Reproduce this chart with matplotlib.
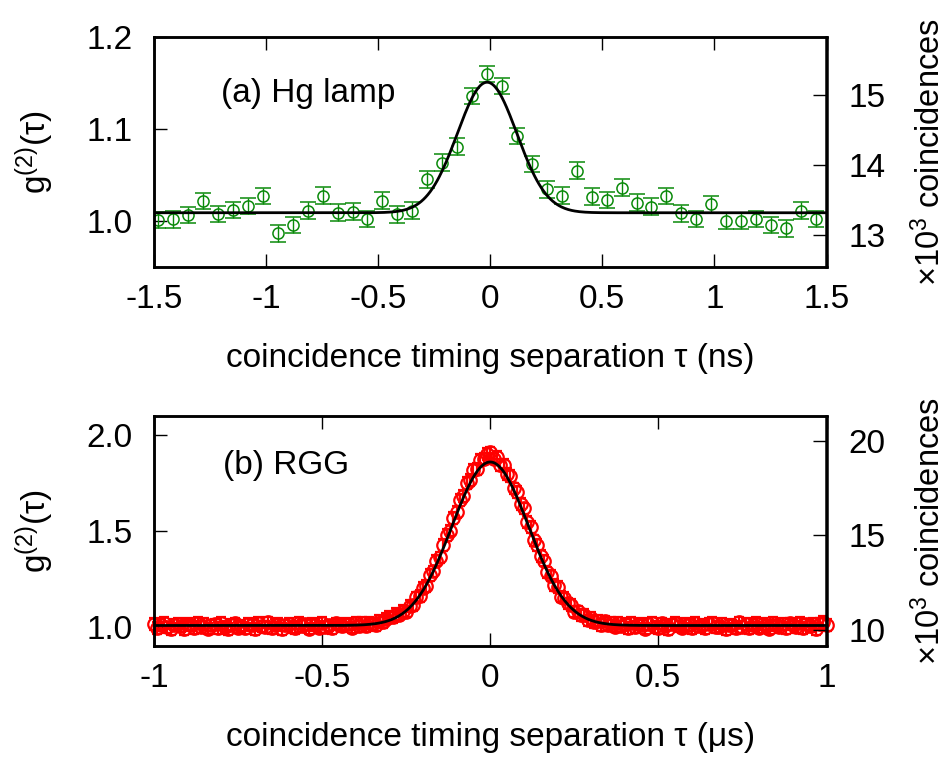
import numpy as np
import matplotlib
matplotlib.use("Agg")
import matplotlib.pyplot as plt
from matplotlib.ticker import FixedLocator, FixedFormatter

plt.rcParams['font.family'] = ['Liberation Sans', 'DejaVu Sans']
plt.rcParams['mathtext.fontset'] = 'custom'
plt.rcParams['mathtext.rm'] = 'Liberation Sans'
plt.rcParams['mathtext.it'] = 'Liberation Sans'

# ---------------- Panel (a): Hg lamp ----------------
tau_a = [-1.481, -1.414, -1.348, -1.281, -1.214, -1.148, -1.081, -1.014, -0.948, -0.881,
         -0.814, -0.748, -0.681, -0.614, -0.548, -0.481, -0.414, -0.348, -0.281, -0.214,
         -0.148, -0.081, -0.014, 0.053, 0.119, 0.186, 0.253, 0.319, 0.386, 0.453,
         0.519, 0.586, 0.653, 0.719, 0.786, 0.853, 0.919, 0.986, 1.053, 1.119,
         1.186, 1.253, 1.319, 1.386, 1.453]
g2_a = [1.0015, 1.0023, 1.0069, 1.0221, 1.0080, 1.0124, 1.0167, 1.0275, 0.9871, 0.9961,
        1.0116, 1.0278, 1.0094, 1.0105, 1.0026, 1.0224, 1.0077, 1.0116, 1.0456, 1.0636,
        1.0809, 1.1359, 1.1597, 1.1467, 1.0925, 1.0622, 1.0348, 1.0278, 1.0549, 1.0268,
        1.0232, 1.0365, 1.0203, 1.0159, 1.0275, 1.0088, 1.0026, 1.0185, 1.0004, 1.0004,
        1.0026, 0.9961, 0.9925, 1.0116, 1.0026]
err_a = [0.009] * len(g2_a)
fit_a = dict(base=1.0094, amp=0.1413, center=-0.014, sigma=0.133)

xticks_a = [-1.5, -1.0, -0.5, 0.0, 0.5, 1.0, 1.5]
xticklabels_a = ['-1.5', '-1', '-0.5', '0', '0.5', '1', '1.5']
yticks_a = [1.0, 1.1, 1.2]
yticklabels_a = ['1.0', '1.1', '1.2']
y2ticks_a = [13, 14, 15]
y2ticklabels_a = ['13', '14', '15']
norm_a = 13.19  # x10^3 coincidences at g2 = 1

# ---------------- Panel (b): RGG ----------------
tau_b = np.round(np.arange(-100, 101) * 0.01, 2)
g2_b = [
    1.015, 0.993, 1.009, 1.020, 0.997, 0.990, 1.011, 1.017, 1.002, 0.987,
    1.014, 1.007, 0.995, 1.022, 0.999, 1.016, 0.991, 1.008, 1.013, 0.994,
    1.021, 1.001, 0.988, 1.012, 1.018, 0.996, 1.006, 0.992, 1.015, 1.010,
    0.989, 1.019, 1.003, 0.998, 1.023, 0.993, 1.011, 1.014, 0.990, 1.008,
    1.017, 1.000, 0.995, 1.020, 1.004, 1.013, 0.991, 1.016, 1.009, 0.996,
    1.021, 0.999, 1.007, 0.993, 1.018, 1.012, 1.002, 1.015,
    1.013, 0.996, 1.019, 1.003, 1.022, 1.002, 1.021, 1.016, 1.009, 1.033,
    1.026, 1.043, 1.053, 1.050, 1.066, 1.064, 1.082, 1.080, 1.111, 1.112,
    1.154, 1.160, 1.203, 1.214, 1.271, 1.290, 1.345, 1.363, 1.427, 1.479,
    1.502, 1.569, 1.598, 1.663, 1.683, 1.750, 1.766, 1.817, 1.824, 1.873,
    1.878, 1.902,
    1.910,
    1.878, 1.888, 1.845, 1.844, 1.798, 1.786, 1.723, 1.703, 1.642, 1.618,
    1.548, 1.522, 1.451, 1.426, 1.370, 1.346, 1.284, 1.267, 1.218, 1.207,
    1.158, 1.152, 1.123, 1.113, 1.079, 1.081, 1.062, 1.061, 1.034, 1.045,
    1.024, 1.032, 1.010, 1.029, 1.008, 1.022, 1.001, 1.021, 1.002, 1.016,
    0.994, 1.020,
    0.998, 1.017, 1.008, 0.991, 1.014, 1.021, 1.000, 0.994, 1.018, 1.006,
    0.989, 1.013, 1.019, 1.002, 0.996, 1.016, 1.010, 0.992, 1.022, 1.003,
    1.011, 0.993, 1.015, 1.020, 0.997, 1.001, 1.017, 0.990, 1.012, 1.007,
    0.995, 1.023, 0.999, 1.014, 0.992, 1.009, 1.019, 0.996, 1.016, 1.004,
    0.991, 1.021, 1.008, 0.998, 1.015, 0.993, 1.018, 1.011, 1.000, 1.020,
    0.994, 1.013, 1.003, 1.017, 0.989, 1.014, 1.024, 1.010]
err_b = [0.03] * len(g2_b)
fit_b = dict(base=1.007, amp=0.853, center=0.0, sigma=0.114)

xticks_b = [-1.0, -0.5, 0.0, 0.5, 1.0]
xticklabels_b = ['-1', '-0.5', '0', '0.5', '1']
yticks_b = [1.0, 1.5, 2.0]
yticklabels_b = ['1.0', '1.5', '2.0']
y2ticks_b = [10, 15, 20]
y2ticklabels_b = ['10', '15', '20']
norm_b = 10.15

FS = 24
W, H = 951, 759
fig = plt.figure(figsize=(W / 100, H / 100), dpi=100)

def gauss(x, p):
    x = np.asarray(x)
    return p['base'] + p['amp'] * np.exp(-(x - p['center']) ** 2 / (2 * p['sigma'] ** 2))

def style(ax, xt, xtl, yt, ytl, xlim, ylim):
    ax.set_xlim(*xlim)
    ax.set_ylim(*ylim)
    ax.xaxis.set_major_locator(FixedLocator(xt))
    ax.xaxis.set_major_formatter(FixedFormatter(xtl))
    ax.yaxis.set_major_locator(FixedLocator(yt))
    ax.yaxis.set_major_formatter(FixedFormatter(ytl))
    ax.tick_params(axis='x', which='both', direction='in', top=True, bottom=True,
                   length=9.4, width=1.0, labelsize=FS, pad=12.5)
    ax.tick_params(axis='y', which='both', direction='in', left=True, right=False,
                   length=9.4, width=1.0, labelsize=FS, pad=15.5)
    ax.minorticks_off()
    for s in ax.spines.values():
        s.set_linewidth(1.8)

def right_axis(ax, ylim, norm, yt, ytl):
    ax2 = ax.twinx()
    ax2.set_ylim(ylim[0] * norm, ylim[1] * norm)
    ax2.yaxis.set_major_locator(FixedLocator(yt))
    ax2.yaxis.set_major_formatter(FixedFormatter(ytl))
    ax2.tick_params(axis='y', direction='in', length=9.4, width=1.0, labelsize=FS, pad=16)
    ax2.minorticks_off()
    for s in ax2.spines.values():
        s.set_linewidth(1.8)
    ax2.set_ylabel(r'$\times$10$^3$ coincidences', fontsize=23.5, rotation=90)
    ax2.yaxis.set_label_coords(1.128, 0.5)
    return ax2

# Panel (a)
L = 154 / W
Wd = 672.5 / W
Hh = 230 / H
axa = fig.add_axes([L, 1 - 266.7 / H, Wd, Hh])
ylim_a = (0.951, 1.2)
style(axa, xticks_a, xticklabels_a, yticks_a, yticklabels_a, (-1.5, 1.5), ylim_a)
xf = np.linspace(-1.5, 1.5, 600)
axa.errorbar(tau_a, g2_a, yerr=err_a, fmt='o', ms=8.0, mfc='none', mec='#0a8a0a',
             ecolor='#0a8a0a', mew=1.1, elinewidth=1.0, capsize=5.5, capthick=1.1,
             zorder=2)
axa.plot(xf, gauss(xf, fit_a), color='black', lw=2.0, zorder=3)
axa.text(-1.2, 1.129, '(a) Hg lamp', fontsize=FS, ha='left', va='baseline')
axa.set_xlabel('coincidence timing separation τ (ns)', fontsize=FS, labelpad=20)
axa.set_ylabel(r'g$^{(2)}$(τ)', fontsize=FS)
axa.yaxis.set_label_coords(-0.145, 0.5)
right_axis(axa, ylim_a, norm_a, y2ticks_a, y2ticklabels_a)

# Panel (b)
axb = fig.add_axes([L, 1 - 646 / H, Wd, Hh])
ylim_b = (0.9, 2.1)
style(axb, xticks_b, xticklabels_b, yticks_b, yticklabels_b, (-1.0, 1.0), ylim_b)
xf = np.linspace(-1.0, 1.0, 600)
axb.errorbar(tau_b, g2_b, yerr=err_b, fmt='o', ms=9.0, mfc='none', mec='#ff0000',
             ecolor='#ff0000', mew=1.6, elinewidth=1.6, capsize=3.5, capthick=1.4,
             zorder=2, clip_on=False)
axb.plot(xf, gauss(xf, fit_b), color='black', lw=2.0, zorder=3)
axb.text(-0.795, 1.796, '(b) RGG', fontsize=FS, ha='left', va='baseline')
axb.set_xlabel('coincidence timing separation τ (μs)', fontsize=FS, labelpad=20)
axb.set_ylabel(r'g$^{(2)}$(τ)', fontsize=FS)
axb.yaxis.set_label_coords(-0.145, 0.5)
right_axis(axb, ylim_b, norm_b, y2ticks_b, y2ticklabels_b)

fig.savefig('out.png', dpi=100)
